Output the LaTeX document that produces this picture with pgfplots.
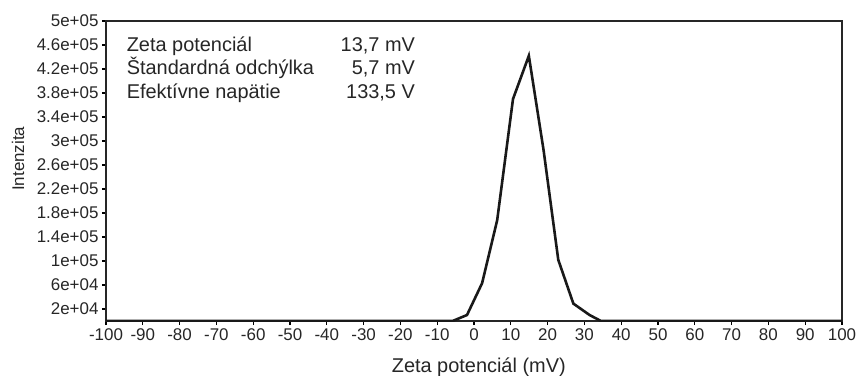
\documentclass[border=0pt]{standalone}
\usepackage{pgfplots}
\pgfplotsset{compat=1.18}
\usepackage{fontspec}
\setmainfont{Liberation Sans}
\begin{document}
\begin{tikzpicture}
\useasboundingbox (-106bp,-55bp) rectangle (752bp,321bp);
\begin{axis}[
  at={(0,0)}, anchor=south west,
  scale only axis, width=736bp, height=300bp,
  clip mode=individual,
  xmin=-100, xmax=100, ymin=0, ymax=500000,
  xtick={-100,-90,...,100},
  xticklabels={-100,-90,-80,-70,-60,-50,-40,-30,-20,-10,0,10,20,30,40,50,60,70,80,90,100},
  ytick={20000,60000,100000,140000,180000,220000,260000,300000,340000,380000,420000,460000,500000},
  yticklabels={2e+04,6e+04,1e+05,1.4e+05,1.8e+05,2.2e+05,2.6e+05,3e+05,3.4e+05,3.8e+05,4.2e+05,4.6e+05,5e+05},
  scaled y ticks=false,
  tick align=outside, xtick pos=bottom, ytick pos=left,
  major tick length=4bp,
  tick style={line width=1.2pt, black},
  axis line style={line width=2.1pt, black!85},
  xticklabel style={font=\fontsize{17}{17}\selectfont, text=black!85},
  yticklabel style={font=\fontsize{17}{17}\selectfont, text=black!85},
  xlabel={Zeta potenciál (mV)},
  xlabel style={at={(axis description cs:0.5065,-0.1723)}, anchor=base, font=\fontsize{20}{20}\selectfont, text=black!85},
]
\addplot[black!90, line width=2.6pt] coordinates {
  (-100,0) (-5.8,0) (-1.9,10000) (2.2,63000) (6.3,168000) (10.6,370000)
  (14.9,442000) (18.9,285000) (22.9,102000) (27.0,29000) (31.4,10000)
  (34.5,0) (100,0)
};
\node[rotate=90, anchor=base, font=\fontsize{17}{17}\selectfont, text=black!85] at (axis description cs:-0.1114,0.5407) {Intenzita};
\node[anchor=base west, font=\fontsize{20}{20}\selectfont, text=black!85] at (axis cs:-95.3,448800) {Zeta potenciál};
\node[anchor=base west, font=\fontsize{20}{20}\selectfont, text=black!85] at (axis cs:-95.3,410000) {Štandardná odchýlka};
\node[anchor=base west, font=\fontsize{20}{20}\selectfont, text=black!85] at (axis cs:-95.3,371200) {Efektívne napätie};
\node[anchor=base east, font=\fontsize{20}{20}\selectfont, text=black!85] at (axis cs:-15.1,448800) {13,7 mV};
\node[anchor=base east, font=\fontsize{20}{20}\selectfont, text=black!85] at (axis cs:-15.1,410000) {5,7 mV};
\node[anchor=base east, font=\fontsize{20}{20}\selectfont, text=black!85] at (axis cs:-15.1,371200) {133,5 V};
\end{axis}
\end{tikzpicture}
\end{document}
